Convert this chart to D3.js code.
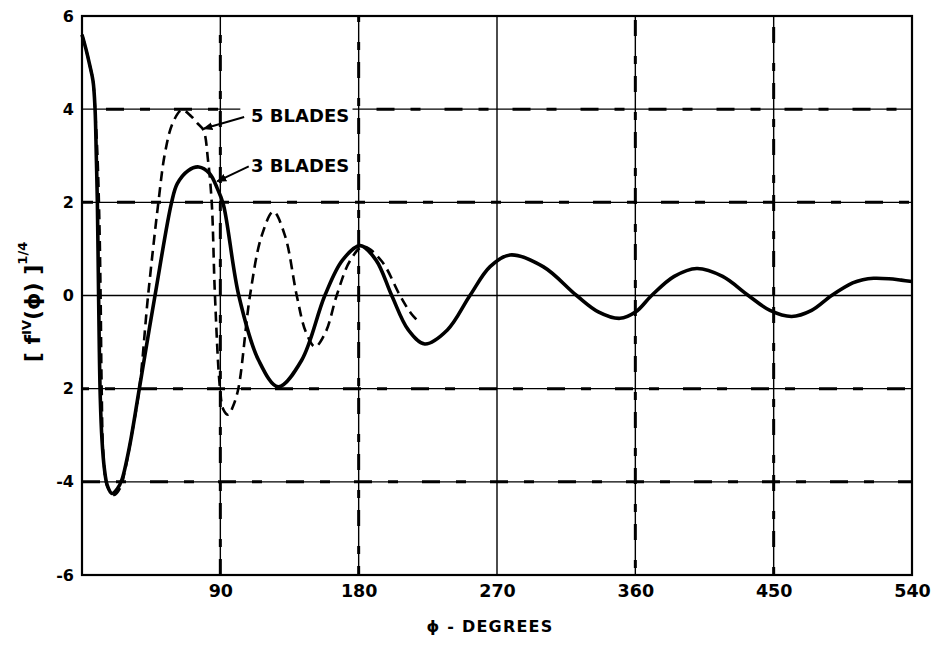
<!DOCTYPE html>
<html>
<head>
<meta charset="utf-8">
<script src="https://cdn.jsdelivr.net/npm/d3@7"></script>
<style>
  body { margin: 0; background: #fff; }
  svg { display: block; }
  text { font-family: "DejaVu Sans", sans-serif; fill: #000; }
</style>
</head>
<body>
<svg id="chart"></svg>
<script>
// data (phi in degrees, value of [f^IV(phi)]^1/4)
const phi3 = [0, 2.5, 5, 7.2, 8.5, 9.3, 10, 10.6, 11.2, 11.9, 13, 14.5, 16.5, 19.5, 23, 26, 29, 32, 37.3, 47.5,
  58.3, 62, 69, 76, 83, 88, 92, 102, 114.9, 127.7, 142.9, 158, 169.5, 181, 191.3, 201.5, 212.3, 223, 237.7,
  252.4, 265.5, 278.5, 300, 321.8, 335.9, 350, 360.3, 370.6, 385.3, 400, 416.8, 433.5, 447.6, 461.7, 474.7,
  487.7, 501.4, 508, 515, 525, 533, 540]
const val3 = [5.6, 5.3, 4.95, 4.6, 4.0, 3.0, 2.0, 0.5, -1.0, -2.2, -3.1, -3.7, -4.08, -4.25, -4.15, -3.95, -3.55, -3.05, -2, 0,
  2, 2.4, 2.68, 2.76, 2.62, 2.3, 1.95, 0, -1.39, -1.96, -1.39, 0, 0.76, 1.07, 0.76, 0, -0.74, -1.04, -0.74,
  0, 0.62, 0.87, 0.62, 0, -0.35, -0.49, -0.35, 0, 0.41, 0.58, 0.41, 0, -0.32, -0.45, -0.32,
  0, 0.27, 0.34, 0.37, 0.36, 0.33, 0.3]

const phi5 = [0, 2.5, 5, 7.2, 8.5, 10, 11.3, 12.1, 12.8, 13.9, 16.5, 21, 25, 28, 32, 37.3, 43, 49.7, 54, 59, 64.9,
  71, 75, 79, 82, 84.4, 86.5, 89.8, 92, 95.2, 98, 101.7, 109.3, 116.9, 124.5, 132.1, 139.7, 145.6, 151.6, 158.6,
  165.7, 174.3, 183, 194.9, 206.9, 214, 220]
const val5 = [5.6, 5.3, 4.95, 4.6, 4.0, 3.05, 1.6, 0, -2, -3.4, -4.1, -4.28, -4.12, -3.75, -3.05, -2, 0, 2, 3.06, 3.7, 3.98,
  3.85, 3.7, 3.55, 2.9, 2, 0, -2, -2.45, -2.56, -2.4, -2, 0, 1.28, 1.8, 1.28, 0, -0.78, -1.1, -0.78,
  0, 0.74, 1.05, 0.74, 0, -0.38, -0.6]

const xTicks = [90, 180, 270, 360, 450, 540]
const xTickLabels = ['90', '180', '270', '360', '450', '540']
const yTicks = [-6, -4, -2, 0, 2, 4, 6]
const yTickLabels = ['-6', '-4', '2', '0', '2', '4', '6']
const xGrid = [90, 180, 270, 360, 450]
const yGrid = [-4, -2, 0, 2, 4]

const width = 935
const height = 646
const margin = {left: 82, right: 23, top: 16, bottom: 71}

const svg = d3.select('#chart').attr('width', width).attr('height', height)

const x = d3.scaleLinear().domain([0, 540]).range([margin.left, width - margin.right])
const y = d3.scaleLinear().domain([-6, 6]).range([height - margin.bottom, margin.top])

// grid: thin line plus a blotchy overlay like the hand inked original
const blobby = [-4, -2, 2, 4]
yGrid.forEach((v, i) => {
  // the +4 line is broken where the "5 BLADES" note sits
  const segs = v === 4 ? [[0, 103], [176, 540]] : [[0, 540]]
  segs.forEach(s => {
    svg.append('line')
      .attr('x1', x(s[0])).attr('x2', x(s[1]))
      .attr('y1', y(v)).attr('y2', y(v))
      .attr('stroke', '#000').attr('stroke-width', 1.4)
    if (blobby.includes(v)) {
      svg.append('line')
        .attr('x1', x(s[0])).attr('x2', x(s[1]))
        .attr('y1', y(v)).attr('y2', y(v))
        .attr('stroke', '#000').attr('stroke-width', 3)
        .attr('stroke-dasharray', '18,16,10,24')
        .attr('stroke-dashoffset', i * 11)
    }
  })
})
xGrid.forEach((v, i) => {
  svg.append('line')
    .attr('x1', x(v)).attr('x2', x(v))
    .attr('y1', y(-6)).attr('y2', y(6))
    .attr('stroke', '#000').attr('stroke-width', 1.4)
  if (v !== 270) {
    svg.append('line')
      .attr('x1', x(v)).attr('x2', x(v))
      .attr('y1', y(-6)).attr('y2', y(6))
      .attr('stroke', '#000').attr('stroke-width', 3)
      .attr('stroke-dasharray', '16,12,8,20')
      .attr('stroke-dashoffset', i * 7)
  }
})

// frame
svg.append('rect')
  .attr('x', x(0)).attr('y', y(6))
  .attr('width', x(540) - x(0)).attr('height', y(-6) - y(6))
  .attr('fill', 'none').attr('stroke', '#000').attr('stroke-width', 2.2)

// axes (labels only, the frame is the axis line)
const xAxis = d3.axisBottom(x).tickValues(xTicks).tickSize(0).tickPadding(10)
  .tickFormat((d, i) => xTickLabels[i])
const yAxis = d3.axisLeft(y).tickValues(yTicks).tickSize(0).tickPadding(8)
  .tickFormat((d, i) => yTickLabels[i])

const gx = svg.append('g').attr('transform', 'translate(0,' + y(-6) + ')').call(xAxis)
gx.select('.domain').remove()
gx.selectAll('text').attr('font-size', 17.5).attr('font-weight', 'bold')
  .attr('font-family', '"DejaVu Sans", sans-serif')

const gy = svg.append('g').attr('transform', 'translate(' + x(0) + ',0)').call(yAxis)
gy.select('.domain').remove()
gy.selectAll('text').attr('font-size', 16).attr('font-weight', 'bold')
  .attr('font-family', '"DejaVu Sans", sans-serif')

// curves
const line = d3.line().x(d => x(d[0])).y(d => y(d[1])).curve(d3.curveCatmullRom.alpha(0.5))

svg.append('path')
  .datum(d3.zip(phi5, val5))
  .attr('d', line)
  .attr('fill', 'none').attr('stroke', '#000').attr('stroke-width', 2.6)
  .attr('stroke-dasharray', '10,6')

svg.append('path')
  .datum(d3.zip(phi3, val3))
  .attr('d', line)
  .attr('fill', 'none').attr('stroke', '#000').attr('stroke-width', 3.6)
  .attr('stroke-linejoin', 'round')

// notes with leaders
svg.append('defs').append('marker')
  .attr('id', 'arrow').attr('viewBox', '0 0 10 10')
  .attr('refX', 9).attr('refY', 5)
  .attr('markerWidth', 5).attr('markerHeight', 5)
  .attr('orient', 'auto')
  .append('path').attr('d', 'M0,1 L10,5 L0,9 Z').attr('fill', '#000')

const notes = [
  {text: '5 BLADES', tx: 110, ty: 3.72, from: [105.5, 3.83], to: [79, 3.58]},
  {text: '3 BLADES', tx: 110, ty: 2.65, from: [108.5, 2.77], to: [88, 2.45]}
]
notes.forEach(n => {
  svg.append('line')
    .attr('x1', x(n.from[0])).attr('y1', y(n.from[1]))
    .attr('x2', x(n.to[0])).attr('y2', y(n.to[1]))
    .attr('stroke', '#000').attr('stroke-width', 2)
    .attr('marker-end', 'url(#arrow)')
  svg.append('text')
    .attr('x', x(n.tx)).attr('y', y(n.ty))
    .attr('font-size', 18).attr('font-weight', 'bold')
    .text(n.text)
})

// axis titles
svg.append('text')
  .attr('x', 490).attr('y', 632)
  .attr('text-anchor', 'middle')
  .attr('font-size', 16).attr('font-weight', 'bold').attr('letter-spacing', 1.2)
  .text('ϕ - DEGREES')

const yl = svg.append('text')
  .attr('transform', 'translate(40,302) rotate(-90)')
  .attr('text-anchor', 'middle')
  .attr('font-size', 22).attr('font-weight', 'bold')
yl.append('tspan').text('[ f')
yl.append('tspan').attr('font-size', 13).attr('dy', -9).text('IV')
yl.append('tspan').attr('dy', 9).text('(ϕ) ]')
yl.append('tspan').attr('font-size', 13).attr('dy', -13).text('1/4')
</script>
</body>
</html>
